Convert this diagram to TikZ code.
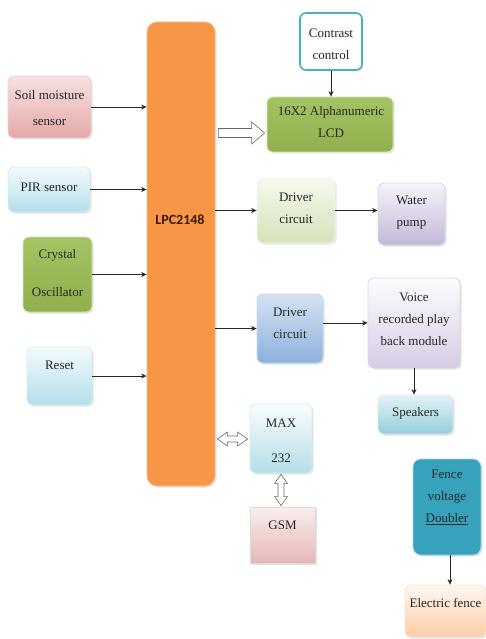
\documentclass[tikz,border=0pt]{standalone}
\usepackage{fontspec}
\setmainfont{Liberation Serif}
\newfontfamily\serifbox{Liberation Serif}
\newfontfamily\lpcfont{Carlito}
\usetikzlibrary{arrows.meta,shadows,calc}
\definecolor{lpcor}{HTML}{F79646}
\definecolor{lpcedge}{HTML}{FAC090}
\definecolor{soilT}{HTML}{F7E1E0}
\definecolor{soilB}{HTML}{E3A9A8}
\definecolor{soilE}{HTML}{F0D2D1}
\definecolor{pirT}{HTML}{F2FAFC}
\definecolor{pirB}{HTML}{B4DFEB}
\definecolor{pirE}{HTML}{D6EDF3}
\definecolor{grnT}{HTML}{A4C364}
\definecolor{grnB}{HTML}{8FB04C}
\definecolor{grnE}{HTML}{D7E4BD}
\definecolor{contE}{HTML}{4BACC6}
\definecolor{dv1T}{HTML}{F5F9ED}
\definecolor{dv1B}{HTML}{D5E3BA}
\definecolor{pumpT}{HTML}{F6F3FA}
\definecolor{pumpB}{HTML}{C4B8D8}
\definecolor{purE}{HTML}{DCD4E8}
\definecolor{dv2T}{HTML}{D5E2F2}
\definecolor{dv2B}{HTML}{8DB0DD}
\definecolor{dv2E}{HTML}{C6D9F1}
\definecolor{voiT}{HTML}{FDFCFE}
\definecolor{voiB}{HTML}{D6CCE5}
\definecolor{spkT}{HTML}{E4F3F7}
\definecolor{spkB}{HTML}{94CEDD}
\definecolor{maxT}{HTML}{FAFDFE}
\definecolor{maxB}{HTML}{B4DDE8}
\definecolor{gsmT}{HTML}{FBEEEE}
\definecolor{gsmB}{HTML}{E4B7B6}
\definecolor{fenF}{HTML}{36A2BC}
\definecolor{fenE}{HTML}{A5D5E2}
\definecolor{elT}{HTML}{FEF7F1}
\definecolor{elB}{HTML}{FBCDA6}
\definecolor{elE}{HTML}{FBE3CF}
\definecolor{lpctext}{HTML}{3A1A05}
\begin{document}
\begin{tikzpicture}[x=1pt,y=-1pt,
  box/.style={rounded corners=6pt, line width=0.8pt,
    drop shadow={opacity=0.22, shadow xshift=1.5pt, shadow yshift=-1.5pt}},
  txt/.style={align=center, font=\serifbox\fontsize{13}{22}\selectfont, text=black!85, inner sep=0pt},
  arr/.style={draw=black!85, line width=0.7pt, -{Stealth[length=5.5pt,width=5pt]}},
  hollow/.style={draw=black!60, fill=white, line width=0.6pt, line join=miter}]
\useasboundingbox (0,0) rectangle (486,639);

% boxes
\node[box, minimum width=68pt, minimum height=464pt, rounded corners=10pt, fill=lpcor, draw=lpcedge] (lpc) at (181,254) {};
\node[box, minimum width=83pt, minimum height=62pt, top color=soilT, bottom color=soilB, draw=soilE] (soil) at (49.5,107) {};
\node[box, minimum width=82pt, minimum height=45pt, top color=pirT, bottom color=pirB, draw=pirE] (pir) at (49,189.5) {};
\node[box, minimum width=69pt, minimum height=75pt, top color=grnT, bottom color=grnB, draw=grnE] (crys) at (57.5,274.5) {};
\node[box, minimum width=65pt, minimum height=58pt, top color=pirT, bottom color=pirB, draw=pirE] (reset) at (59.5,376) {};
\node[box, minimum width=62pt, minimum height=57pt, fill=white, draw=contE, line width=1.6pt] (cont) at (331,41.5) {};
\node[box, minimum width=126pt, minimum height=55pt, top color=grnT, bottom color=grnB, draw=grnE] (lcd) at (330,124.5) {};
\node[box, minimum width=78pt, minimum height=65pt, top color=dv1T, bottom color=dv1B, draw=dv1T] (dv1) at (296,210.5) {};
\node[box, minimum width=67pt, minimum height=62pt, top color=pumpT, bottom color=pumpB, draw=purE] (pump) at (411.5,214) {};
\node[box, minimum width=66pt, minimum height=69pt, top color=dv2T, bottom color=dv2B, draw=dv2E] (dv2) at (290,328.5) {};
\node[box, minimum width=92pt, minimum height=90pt, top color=voiT, bottom color=voiB, draw=purE] (voice) at (414,323) {};
\node[box, minimum width=75pt, minimum height=39pt, top color=spkT, bottom color=spkB, draw=pirE] (spk) at (415.5,414.5) {};
\node[box, minimum width=62pt, minimum height=69pt, top color=maxT, bottom color=maxB, draw=pirE] (max) at (281,438.5) {};
\node[box, rounded corners=0pt, minimum width=65pt, minimum height=56pt, top color=gsmT, bottom color=gsmB, draw=black!15] (gsm) at (282.5,535) {};
\node[box, rounded corners=8pt, minimum width=68pt, minimum height=96pt, fill=fenF, draw=fenE] (fence) at (447,507) {};
\node[box, minimum width=81pt, minimum height=52pt, top color=elT, bottom color=elB, draw=elE] (elec) at (445.5,611) {};

% texts
\node[txt, font=\serifbox\fontsize{13}{26}\selectfont] (soilt) at (49.5,108) {Soil moisture\\sensor};
\node[txt] (pirt) at (49,187) {PIR sensor};
\node[txt, font=\serifbox\fontsize{13}{38}\selectfont] (cryst) at (57.5,273.5) {Crystal\\Oscillator};
\node[txt] (resett) at (59.5,365) {Reset};
\node[txt, font=\lpcfont\bfseries\fontsize{14}{16}\selectfont, text=lpctext] (lpct) at (180,220) {LPC2148};
\node[txt] (contt) at (331,44) {Contrast\\control};
\node[txt] (lcdt) at (331,122) {16X2 Alphanumeric\\LCD};
\node[txt] (dv1t) at (296,208) {Driver\\circuit};
\node[txt] (pumpt) at (411.5,212.5) {Water\\pump};
\node[txt] (dv2t) at (290,323) {Driver\\circuit};
\node[txt] (voicet) at (414,319) {Voice\\recorded play\\back module};
\node[txt] (spkt) at (415.5,413) {Speakers};
\node[txt, font=\serifbox\fontsize{13}{35}\selectfont] (maxt) at (281,440.5) {MAX\\232};
\node[txt] (gsmt) at (282.5,525) {GSM};
\node[txt] (fencet) at (447,497.5) {Fence\\voltage\\\underline{Doubler}};
\node[txt] (elect) at (445.5,603) {Electric fence};

% arrows into LPC
\draw[arr] (soil.east) -- (soil.east -| lpc.west);
\draw[arr] (pir.east) -- (pir.east -| lpc.west);
\draw[arr] (crys.east) -- (crys.east -| lpc.west);
\draw[arr] (reset.east) -- (reset.east -| lpc.west);
% outputs
\draw[arr] (lpc.east |- dv1.west) -- (dv1.west);
\draw[arr] (dv1.east) -- (dv1.east -| pump.west);
\draw[arr] (lpc.east |- dv2.west) -- (dv2.west);
\draw[arr] (dv2.east |- voice.west) -- (voice.west);
\draw[arr] (voice.south) -- (voice.south |- spk.north);
\draw[arr] (cont.south) -- (cont.south |- lcd.north);
\draw[arr] ($(fence.south)+(3,0)$) -- ($(fence.south |- elec.north)+(3,0)$);

% hollow block arrows
\coordinate (h1s) at ($(lpc.east |- 0,133)+(3,0)$);
\coordinate (h1e) at ($(lcd.west |- 0,133)+(-2,0)$);
\draw[hollow] ($(h1s)+(0,-4.5)$) -- ($(h1e)+(-13,-4.5)$) -- ($(h1e)+(-13,-11)$) -- (h1e)
  -- ($(h1e)+(-13,11)$) -- ($(h1e)+(-13,4.5)$) -- ($(h1s)+(0,4.5)$) -- cycle;

\coordinate (h2s) at ($(lpc.east |- 0,439)+(2,0)$);
\coordinate (h2e) at ($(max.west |- 0,439)+(-2,0)$);
\draw[hollow] (h2s) -- ($(h2s)+(10,-7)$) -- ($(h2s)+(10,-3)$) -- ($(h2e)+(-10,-3)$)
  -- ($(h2e)+(-10,-7)$) -- (h2e) -- ($(h2e)+(-10,7)$) -- ($(h2e)+(-10,3)$)
  -- ($(h2s)+(10,3)$) -- ($(h2s)+(10,7)$) -- cycle;

\coordinate (v1s) at ($(max.south)+(0,1)$);
\coordinate (v1e) at ($(max.south |- gsm.north)+(0,-1)$);
\draw[hollow] (v1s) -- ($(v1s)+(-6.5,9)$) -- ($(v1s)+(-3,9)$) -- ($(v1e)+(-3,-9)$)
  -- ($(v1e)+(-6.5,-9)$) -- (v1e) -- ($(v1e)+(6.5,-9)$) -- ($(v1e)+(3,-9)$)
  -- ($(v1s)+(3,9)$) -- ($(v1s)+(6.5,9)$) -- cycle;
\end{tikzpicture}
\end{document}
